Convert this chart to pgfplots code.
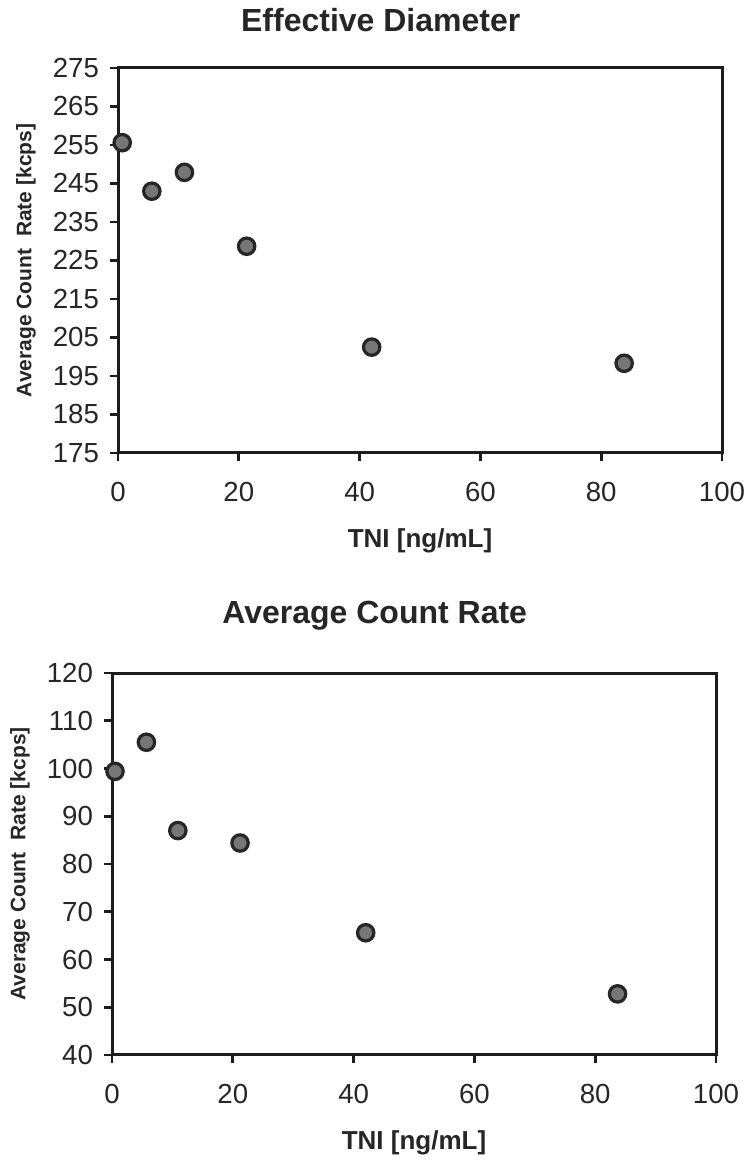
\documentclass[border=0pt]{standalone}
\usepackage{fontspec}
\setmainfont{Liberation Sans}
\usepackage{pgfplots}
\pgfplotsset{compat=1.18}
\definecolor{axisdark}{RGB}{28,28,28}
\definecolor{markfill}{RGB}{118,118,118}
\definecolor{markedge}{RGB}{38,38,38}

\pgfplotsset{
  tnistyle/.style={
    scale only axis, width=302pt,
    xmin=0, xmax=100, xtick={0,20,...,100},
    axis line style={axisdark, line width=1.5pt},
    tick align=outside, major tick length=4pt,
    tick style={axisdark, line width=1.4pt},
    xtick pos=lower, ytick pos=left,
    /pgf/number format/assume math mode=true,
    tick label style={font=\fontsize{13.8}{16}\selectfont, text=black!85},
    xticklabel style={anchor=north, yshift=-7pt},
    yticklabel style={anchor=east, xshift=-2pt},
    xlabel={TNI [ng/mL]},
    xlabel style={font=\fontsize{13}{15}\selectfont\bfseries, text=black!85,
      at={(axis description cs:0.5,0)}, anchor=center, yshift=-44pt},
    ylabel={Average Count\ \ Rate [kcps]},
    ylabel style={font=\fontsize{10.5}{12}\selectfont\bfseries, text=black!85,
      at={(axis description cs:-0.1523,0.5)}, anchor=center},
    title style={font=\fontsize{16}{19}\selectfont\bfseries, text=black!85,
      at={(axis description cs:0.435,1)}, anchor=base},
  },
  dots/.style={only marks, mark=*, mark size=4.1pt,
    mark options={fill=markfill, draw=markedge, line width=1.6pt}},
}

\begin{document}
\begin{tikzpicture}
\useasboundingbox (0,0) rectangle (373.5pt,580pt);

% top: effective diameter
\begin{axis}[tnistyle,
  at={(59pt,353.5pt)}, anchor=south west, height=192.5pt,
  ymin=175, ymax=275, ytick={175,185,...,275},
  title={Effective Diameter}, title style={yshift=12pt},
]
\addplot[dots] coordinates {
  (0.7,255.6) (5.6,243.0) (11,247.9) (21.3,228.7) (42,202.5) (83.8,198.3)
};
\end{axis}

% bottom: average count rate
\begin{axis}[tnistyle,
  at={(56pt,52.5pt)}, anchor=south west, height=191pt,
  ymin=40, ymax=120, ytick={40,50,...,120},
  title={Average Count Rate}, title style={yshift=19pt},
]
\addplot[dots] coordinates {
  (0.5,99.4) (5.7,105.5) (10.9,87.0) (21.2,84.4) (42,65.6) (83.7,52.8)
};
\end{axis}
\end{tikzpicture}
\end{document}
